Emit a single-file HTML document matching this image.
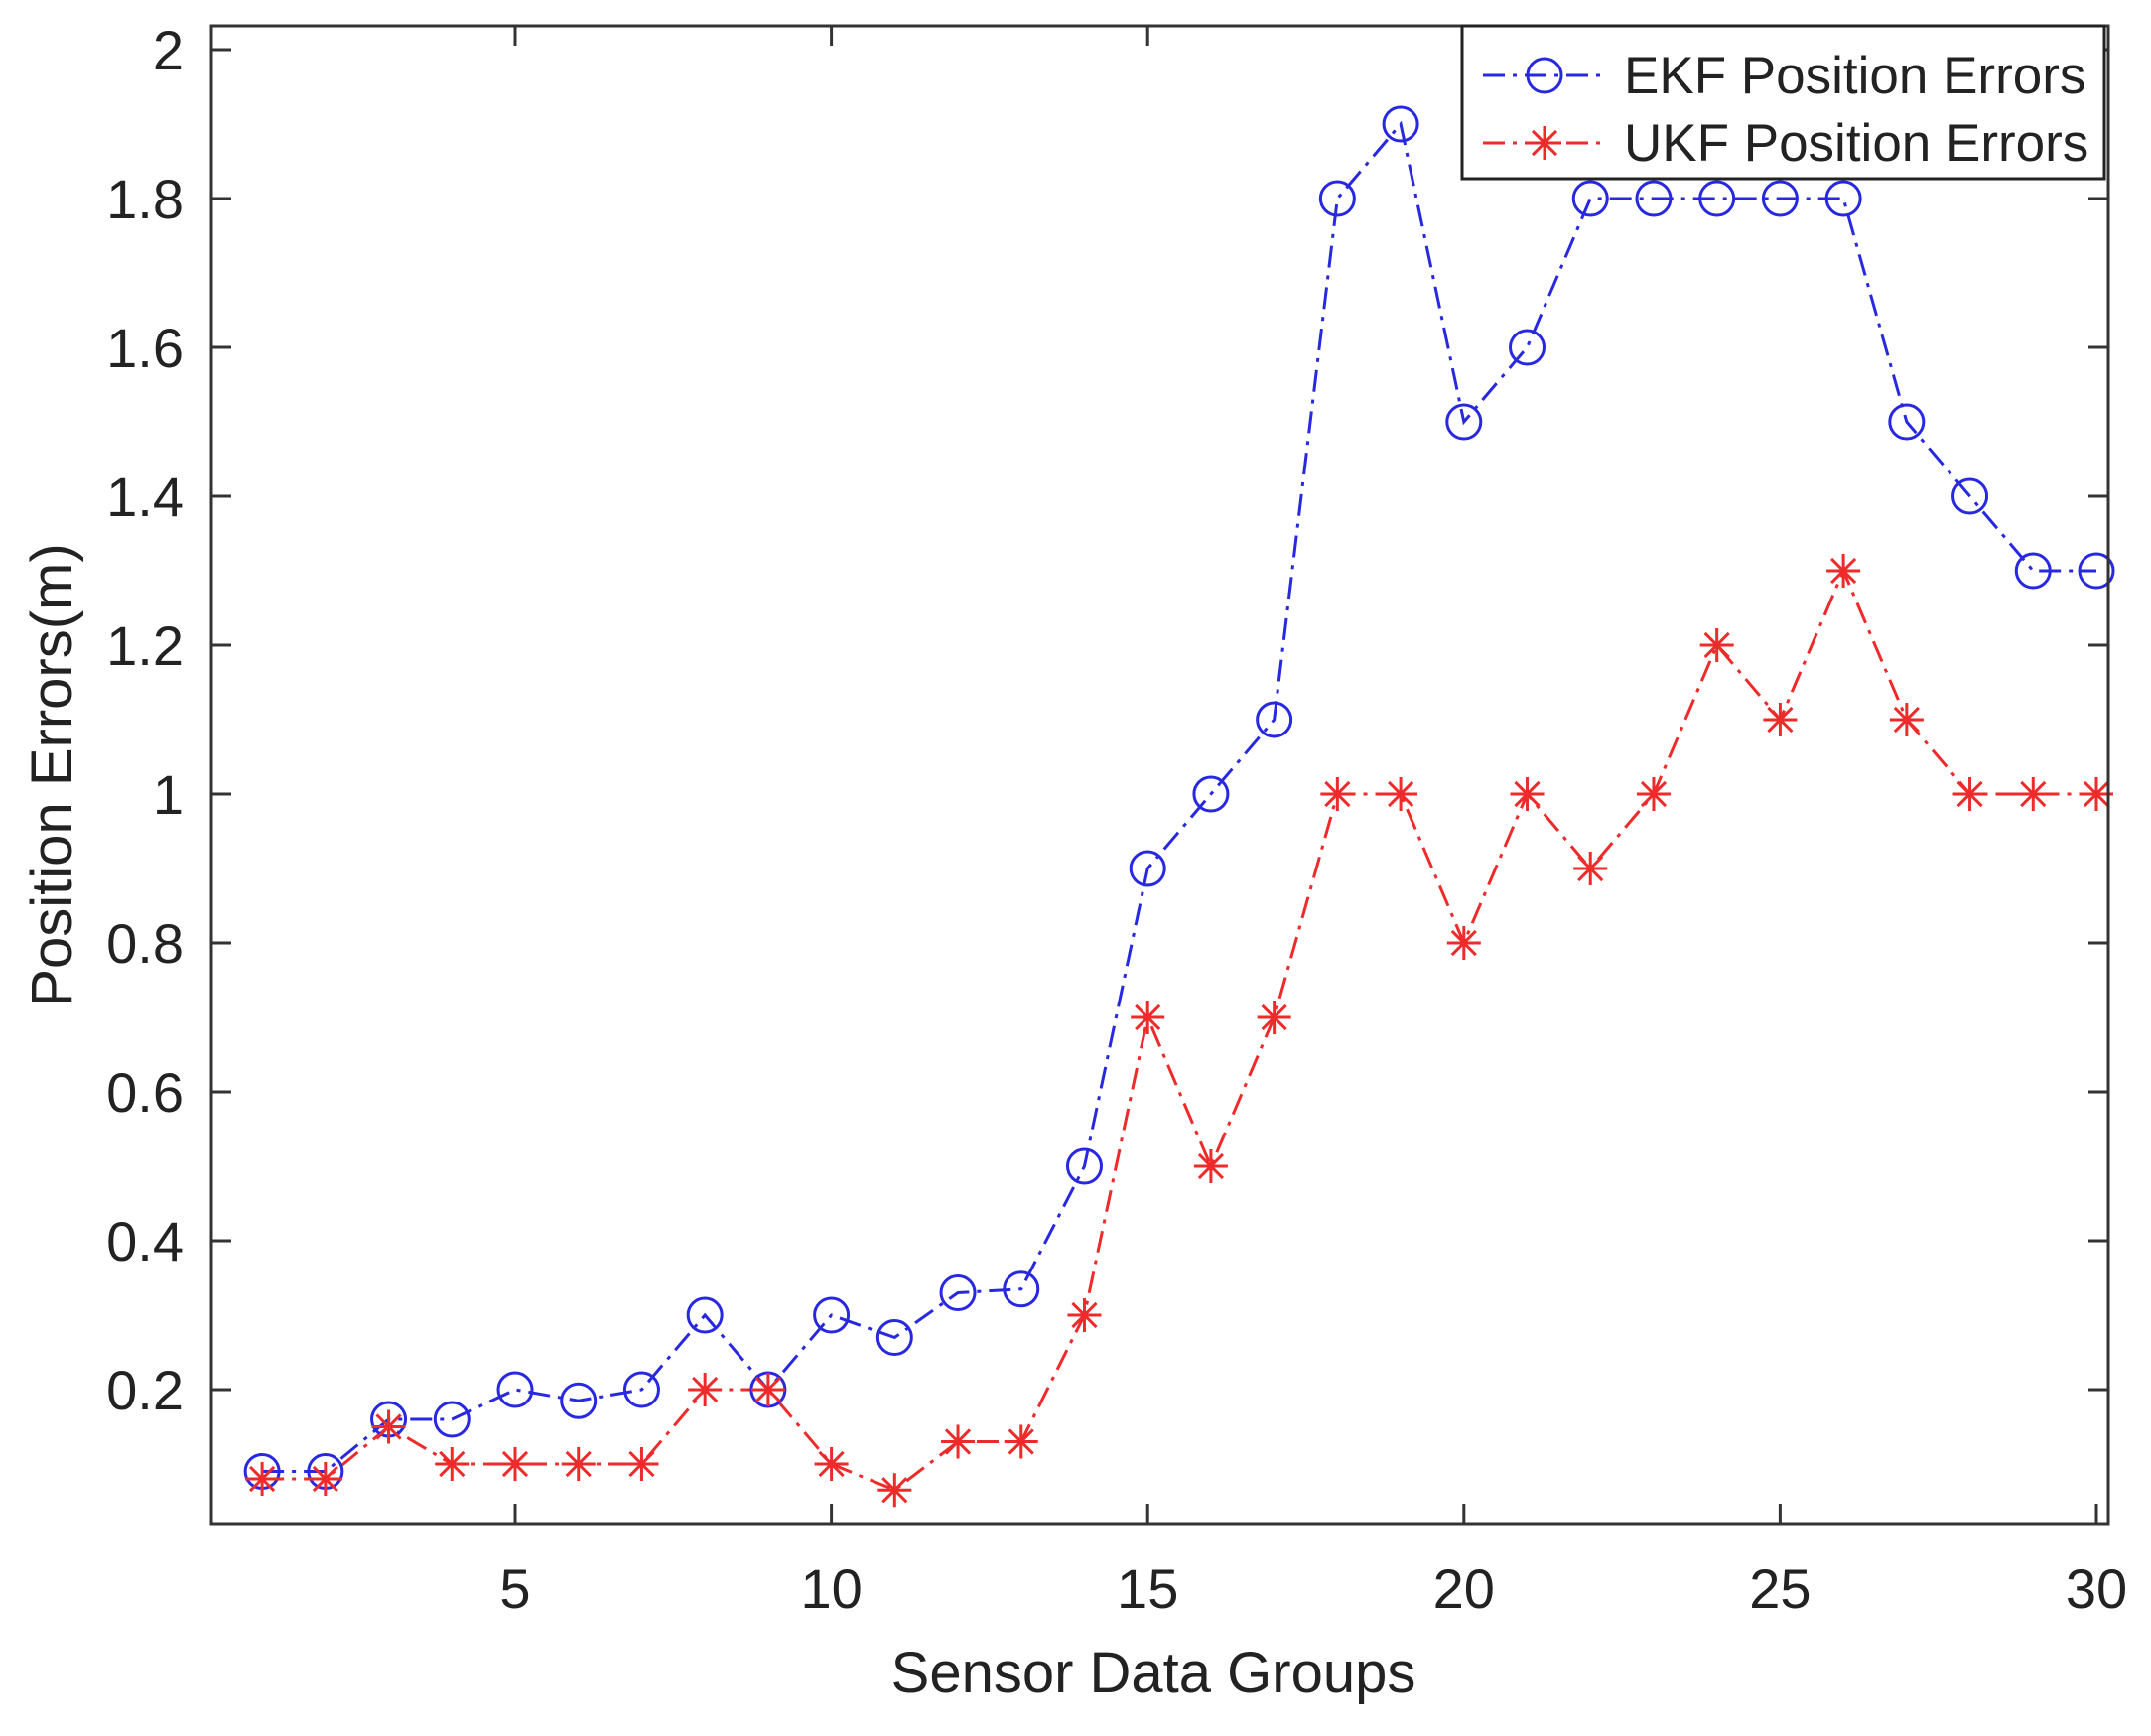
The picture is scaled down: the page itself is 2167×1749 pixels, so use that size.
<!DOCTYPE html>
<html><head><meta charset="utf-8"><style>
body{margin:0;background:#fff}
svg text{font-family:"Liberation Sans",Arial,sans-serif;fill:#222}
</style></head><body>
<svg id="chart" width="2167" height="1744" viewBox="0 0 2167 1744" xmlns="http://www.w3.org/2000/svg">
<rect width="2167" height="1744" fill="#fff"/>
<g id="ticks"></g>
<g id="series"></g>
<rect x="213" y="26" width="1911" height="1509" fill="none" stroke="#333" stroke-width="3"/>
<text x="0" y="0" font-size="58" text-anchor="middle" transform="translate(72,781) rotate(-90)">Position Errors(m)</text>
<text x="1162" y="1705" font-size="58" text-anchor="middle">Sensor Data Groups</text>
<g>
<rect x="1473" y="26" width="647" height="154" fill="#fff" stroke="#222" stroke-width="3"/>
<line x1="1494" y1="76" x2="1620" y2="76" stroke="#2828e0" stroke-width="3" stroke-dasharray="22,8,4,8"/>
<circle cx="1556" cy="76" r="17" fill="none" stroke="#2828e0" stroke-width="3"/>
<text x="1636" y="94" font-size="53" fill="#000">EKF Position Errors</text>
<line x1="1494" y1="144" x2="1620" y2="144" stroke="#ee2a2a" stroke-width="3" stroke-dasharray="22,8,4,8"/>
<g id="legstar"></g>
<text x="1636" y="162" font-size="53" fill="#000">UKF Position Errors</text>
</g>
</svg>
<script>
const groups=[1,2,3,4,5,6,7,8,9,10,11,12,13,14,15,16,17,18,19,20,21,22,23,24,25,26,27,28,29,30];
const ekf=[0.09,0.09,0.16,0.16,0.2,0.185,0.2,0.3,0.2,0.3,0.27,0.33,0.335,0.5,0.9,1.0,1.1,1.8,1.9,1.5,1.6,1.8,1.8,1.8,1.8,1.8,1.5,1.4,1.3,1.3];
const ukf=[0.08,0.08,0.15,0.1,0.1,0.1,0.1,0.2,0.2,0.1,0.065,0.13,0.13,0.3,0.7,0.5,0.7,1.0,1.0,0.8,1.0,0.9,1.0,1.2,1.1,1.3,1.1,1.0,1.0,1.0];
const xTicks=[5,10,15,20,25,30];
const yTicks=[0.2,0.4,0.6,0.8,1,1.2,1.4,1.6,1.8,2];
const yTickLabels=["0.2","0.4","0.6","0.8","1","1.2","1.4","1.6","1.8","2"];

const NS="http://www.w3.org/2000/svg";
const X=v=>519+(v-5)*(2112-519)/25;
const Y=v=>50+(2-v)*750;
function mk(tag,attrs,parent){const e=document.createElementNS(NS,tag);for(const k in attrs)e.setAttribute(k,attrs[k]);parent.appendChild(e);return e;}
const tg=document.getElementById('ticks');
xTicks.forEach(t=>{
  const x=X(t);
  const a=mk('line',{x1:x,y1:1535,x2:x,y2:1515,stroke:'#333','stroke-width':3},tg);
  
  
  const b=mk('line',{x1:x,y1:26,x2:x,y2:46,stroke:'#333','stroke-width':3},tg);
  
  
  const l=mk('text',{x:x,y:1620,'font-size':56,'text-anchor':'middle'},tg);
  l.textContent=t;
  
  
});
yTicks.forEach((t,i)=>{
  const y=Y(t);
  const a=mk('line',{x1:213,y1:y,x2:233,y2:y,stroke:'#333','stroke-width':3},tg);
  
  
  const b=mk('line',{x1:2104,y1:y,x2:2124,y2:y,stroke:'#333','stroke-width':3},tg);
  
  
  const l=mk('text',{x:185,y:y+20,'font-size':56,'text-anchor':'end'},tg);
  l.textContent=yTickLabels[i];
  
  
});
const sg=document.getElementById('series');
function star(cx,cy,r,color,parent){
  const g=mk('g',{stroke:color,'stroke-width':3},parent);
  for(let k=0;k<4;k++){const an=k*Math.PI/4;
    mk('line',{x1:cx-r*Math.cos(an),y1:cy-r*Math.sin(an),x2:cx+r*Math.cos(an),y2:cy+r*Math.sin(an)},g);}
  return g;
}
const pe=mk('polyline',{points:groups.map((g,i)=>X(g)+','+Y(ekf[i])).join(' '),fill:'none',stroke:'#2828e0','stroke-width':3,'stroke-dasharray':'22,8,4,8'},sg);


const pu=mk('polyline',{points:groups.map((g,i)=>X(g)+','+Y(ukf[i])).join(' '),fill:'none',stroke:'#ee2a2a','stroke-width':3,'stroke-dasharray':'22,8,4,8'},sg);


groups.forEach((g,i)=>{
  const c=mk('circle',{cx:X(g),cy:Y(ekf[i]),r:17,fill:'none',stroke:'#2828e0','stroke-width':3},sg);
  
  
  const s=star(X(g),Y(ukf[i]),17,'#ee2a2a',sg);
  
  
});
star(1556,144,17,'#ee2a2a',document.getElementById('legstar'));
</script>
</body></html>
